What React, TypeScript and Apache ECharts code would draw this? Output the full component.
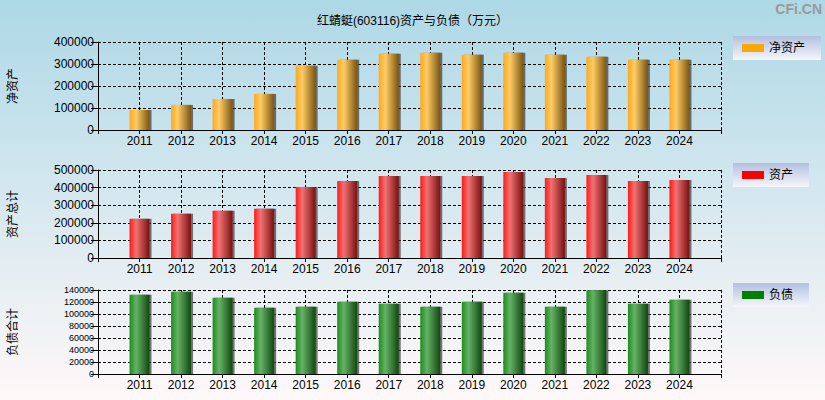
import React, { useEffect, useRef } from "react";
import * as echarts from "echarts";

const years = [2011, 2012, 2013, 2014, 2015, 2016, 2017, 2018, 2019, 2020, 2021, 2022, 2023, 2024];
const netAssets = [91000, 114000, 141000, 164000, 292000, 319000, 347000, 351000, 342000, 351000, 342000, 333000, 319000, 319000];
const totalAssets = [222600, 250900, 267900, 279200, 403800, 437700, 466000, 466000, 466000, 488700, 454700, 471700, 437700, 443400];
const liabilities = [132200, 137200, 127200, 110600, 112200, 120600, 117200, 112200, 120600, 135600, 112200, 139500, 117200, 123900];

const seriesNames = ["净资产", "资产", "负债"];
const axisNames = ["净资产", "资产总计", "负债合计"];
const legendColors = ["#FFA500", "#FF0000", "#008000"];
const yMax = [400000, 500000, 140000];
const yInterval = [100000, 100000, 20000];
const titleText = "红蜻蜓(603116)资产与负债（万元）";

const FONT = '"Liberation Sans", Arial, "Noto Sans CJK SC", sans-serif';

const barGradients = [
  ["#FFA81E", "#FFCC66", "#7A5510"],
  ["#FF1A1A", "#F07272", "#7A0F0F"],
  ["#1E8C1E", "#66B266", "#0F480F"],
];

const grids = [
  { left: 98, right: 104, top: 42, height: 88 },
  { left: 98, right: 104, top: 170, height: 88 },
  { left: 98, right: 104, top: 290, height: 84 },
];
const legendTops = [36, 163, 283];

export default function App() {
  const ref = useRef<HTMLDivElement>(null);
  useEffect(() => {
    if (!ref.current) return;
    const chart = echarts.init(ref.current, null, { renderer: "svg" });
    const dataSets = [netAssets, totalAssets, liabilities];
    const dash = [3, 2];
    const option: any = {
      animation: false,
      backgroundColor: {
        type: "linear", x: 0, y: 0, x2: 0, y2: 1,
        colorStops: [
          { offset: 0, color: "#ADD8E6" },
          { offset: 1, color: "#FFF8F8" },
        ],
      },
      title: {
        text: titleText,
        left: "center",
        top: 10,
        textStyle: { fontSize: 12, fontWeight: "normal", color: "#000", fontFamily: FONT },
      },
      grid: grids.map((g) => ({ ...g, containLabel: false })),
      legend: [0, 1, 2].map((i) => ({
        data: [{ name: seriesNames[i], itemStyle: { color: legendColors[i] }, icon: "rect" }],
        left: 733,
        top: legendTops[i],
        itemWidth: 22,
        itemHeight: 8,
        padding: [6, 16, 6, 9],
        selectedMode: false,
        textStyle: { fontSize: 12, color: "#000", fontFamily: FONT },
        backgroundColor: {
          type: "linear", x: 0, y: 0, x2: 0, y2: 1,
          colorStops: [
            { offset: 0, color: "#B2C0DF" },
            { offset: 1, color: "#F6F6FB" },
          ],
        },
      })),
      xAxis: [0, 1, 2].map((i) => ({
        type: "value",
        gridIndex: i,
        min: 2010,
        max: 2025,
        interval: 1,
        axisLine: { show: true, lineStyle: { color: "#000", width: 1 } },
        axisTick: { show: true, length: 4, lineStyle: { color: "#000" } },
        axisLabel: {
          margin: 5,
          fontSize: 12,
          color: "#000",
          fontFamily: FONT,
          formatter: (v: number) => (v >= 2011 && v <= 2024 ? String(v) : ""),
        },
        splitLine: { show: true, lineStyle: { color: "#000", type: dash, width: 1 } },
      })),
      yAxis: [0, 1, 2].map((i) => ({
        type: "value",
        gridIndex: i,
        min: 0,
        max: yMax[i],
        interval: yInterval[i],
        axisLine: { show: true, lineStyle: { color: "#000", width: 1 } },
        axisTick: { show: true, length: 7, lineStyle: { color: "#000" } },
        axisLabel: {
          margin: 4,
          fontSize: i === 2 ? 9 : 12,
          color: "#000",
          fontFamily: FONT,
          formatter: (v: number) => String(v),
        },
        splitLine: { show: true, lineStyle: { color: "#000", type: dash, width: 1 } },
      })),
      series: [0, 1, 2].map((i) => ({
        name: seriesNames[i],
        type: "bar",
        xAxisIndex: i,
        yAxisIndex: i,
        barWidth: 20,
        data: years.map((y, k) => [y, dataSets[i][k]]),
        itemStyle: {
          color: {
            type: "linear", x: 0, y: 0, x2: 1, y2: 0,
            colorStops: [
              { offset: 0, color: barGradients[i][0] },
              { offset: 0.33, color: barGradients[i][1] },
              { offset: 1, color: barGradients[i][2] },
            ],
          },
          shadowColor: "rgba(60,60,60,0.7)",
          shadowOffsetX: 2,
          shadowOffsetY: 0,
          shadowBlur: 0,
        },
      })),
      graphic: [
        ...[0, 1, 2].map((i) => ({
          type: "text",
          x: 13,
          y: grids[i].top + grids[i].height / 2,
          rotation: Math.PI / 2,
          style: {
            text: axisNames[i],
            font: `12px ${FONT}`,
            align: "center",
            verticalAlign: "middle",
            fill: "#000",
          },
        })),
        {
          type: "text",
          right: 3,
          top: 2,
          style: {
            text: "CFi.CN",
            font: `bold 14px ${FONT}`,
            fill: "#9A9A9A",
          },
        },
      ],
    };
    chart.setOption(option);
    return () => chart.dispose();
  }, []);
  return (
    <div
      ref={ref}
      style={{ position: "fixed", left: 0, top: 0, width: 825, height: 400 }}
    />
  );
}
